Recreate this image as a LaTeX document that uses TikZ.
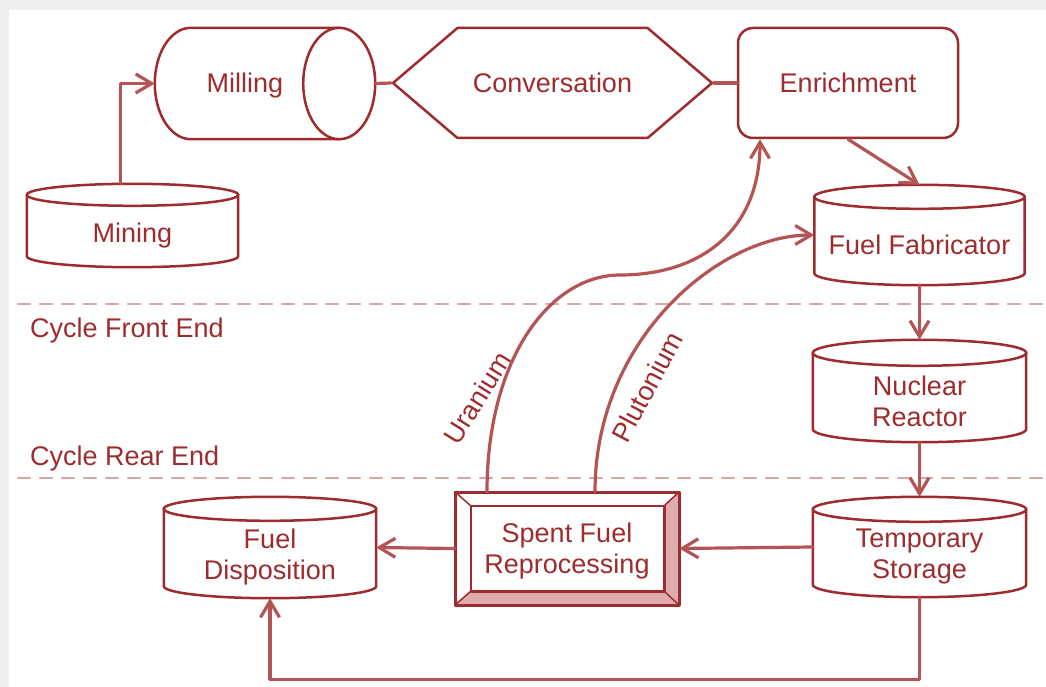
\documentclass[tikz,border=0pt]{standalone}
\usepackage{fontspec}
\setmainfont{Liberation Sans}
\usetikzlibrary{shapes.symbols,arrows.meta,calc}

\definecolor{boxred}{RGB}{158,44,46}
\definecolor{flowred}{RGB}{180,84,84}
\definecolor{dashpink}{RGB}{216,166,166}
\definecolor{bevelpink}{RGB}{222,172,172}
\definecolor{framegray}{RGB}{238,238,238}

\tikzset{
  outline/.style={draw=boxred, line width=2.5pt},
  base/.style={outline, text=boxred, fill=white,
    font=\fontsize{27}{31}\selectfont, align=center, inner sep=0pt},
  drum/.style={rectangle, inner sep=0pt},
  hexbox/.style={base, signal, signal to=east and west, signal pointer angle=81,
    minimum width=319pt, minimum height=110pt},
  roundbox/.style={base, rectangle, rounded corners=15pt,
    minimum width=220pt, minimum height=110pt},
  bevelbox/.style={outline, rectangle, minimum width=222pt, minimum height=111pt},
  flow/.style={draw=flowred, line width=3.2pt},
  flowarrow/.style={-{Straight Barb[length=16pt,width=19pt]}},
  divider/.style={draw=dashpink, line width=2.5pt, dash pattern=on 12pt off 10pt},
  tag/.style={text=boxred, font=\fontsize{27}{31}\selectfont, align=center, inner sep=0pt},
  drumtext/.style={tag, yshift=-10pt}
}

% upright drum: node, half height of the end ellipse
\newcommand\drumoutline[2]{%
  \draw[outline] let \p1=($(#1.east)-(#1.west)$) in
    ($(#1.north west)+(0,#2)$) -- ($(#1.south west)+(0,-#2)$)
    arc[start angle=180, end angle=360, x radius=0.5*\x1, y radius=#2pt]
    -- ($(#1.north east)+(0,#2)$);
  \draw[outline] let \p1=($(#1.east)-(#1.west)$) in
    ($(#1.north)+(0,#2)$) ellipse[x radius=0.5*\x1, y radius=#2pt];
}
% lying barrel: node, half width of the end ellipse
\newcommand\barreloutline[2]{%
  \draw[outline] let \p1=($(#1.north)-(#1.south)$) in
    ($(#1.north east)+(-#2,0)$) -- ($(#1.north west)+(#2,0)$)
    arc[start angle=90, end angle=270, x radius=#2pt, y radius=0.5*\y1]
    -- ($(#1.south east)+(-#2,0)$);
  \draw[outline] let \p1=($(#1.north)-(#1.south)$) in
    ($(#1.east)+(-#2,0)$) ellipse[x radius=#2pt, y radius=0.5*\y1];
}

\begin{document}
\begin{tikzpicture}[x=1pt, y=-1pt, line join=round, line cap=round]
  \useasboundingbox (0,0) rectangle (1046,687);
  \fill[framegray] (0,0) rectangle (1046,687);
  \fill[white] (9,10) rectangle (1046,687);

  % front end / rear end
  \draw[divider] (18,304) -- (1046,304);
  \draw[divider] (18,478) -- (1046,478);
  \node[tag, anchor=base west] (front) at (30,337) {Cycle Front End};
  \node[tag, anchor=base west] (rear) at (30,465) {Cycle Rear End};

  % stations
  \node[drum, minimum width=211pt, minimum height=83pt,
    label={[drumtext]center:Mining}] (mining) at (132.5,225.5) {};
  \drumoutline{mining}{11}
  \node[drum, minimum width=220pt, minimum height=111pt,
    label={[tag, xshift=-20pt, yshift=-2.5pt]center:Milling}] (milling) at (265,83.5) {};
  \barreloutline{milling}{36}
  \node[hexbox] (conv) at (552.5,83) {Conversation};
  \node[roundbox] (enrich) at (848,83) {Enrichment};
  \node[drum, minimum width=210pt, minimum height=100pt,
    label={[drumtext]center:Fuel Fabricator}] (fab) at (919.5,235) {};
  \drumoutline{fab}{12}
  \node[drum, minimum width=213pt, minimum height=102pt,
    label={[drumtext]center:Nuclear\\Reactor}] (reactor) at (919.5,391) {};
  \drumoutline{reactor}{13}
  \node[drum, minimum width=213pt, minimum height=100pt,
    label={[drumtext]center:Temporary\\Storage}] (storage) at (919.5,547) {};
  \drumoutline{storage}{12.5}
  \node[drum, minimum width=212pt, minimum height=101pt,
    label={[drumtext]center:Fuel\\Disposition}] (dispo) at (270,547.5) {};
  \drumoutline{dispo}{12}

  % reprocessing box with bevel
  \node[bevelbox] (spent) at (567,548.5) {};
  \coordinate (inw) at ($(spent.north west)+(16,14)$);
  \coordinate (ine) at ($(spent.north east)+(-15,14)$);
  \coordinate (ise) at ($(spent.south east)+(-15,-14)$);
  \coordinate (isw) at ($(spent.south west)+(16,-14)$);
  \fill[bevelpink] (spent.north east) -- (spent.south east) -- (ise) -- (ine) -- cycle;
  \fill[bevelpink] (spent.south west) -- (spent.south east) -- (ise) -- (isw) -- cycle;
  \draw[outline] (spent.north west) rectangle (spent.south east);
  \draw[outline] (inw) rectangle (ise);
  \draw[outline, line width=1.5pt] (spent.north west) -- (inw) (spent.north east) -- (ine)
    (spent.south east) -- (ise) (spent.south west) -- (isw);
  \node[tag] (spenttext) at ($(spent)+(0,3)$) {Spent Fuel\\Reprocessing};

  % flow
  \draw[flow, flowarrow] ([xshift=-12pt]mining.north) |- (milling.west);
  \draw[flow] (milling.east) -- (conv.west);
  \draw[flow] (conv.east) -- (enrich.west);
  \draw[flow, flowarrow] (enrich.south) -- (fab.north);
  \draw[flow, flowarrow] (fab.south) -- (reactor.north);
  \draw[flow, flowarrow] (reactor.south) -- (storage.north);
  \draw[flow, flowarrow] (storage.west) -- (spent.east);
  \draw[flow, flowarrow] (spent.west) -- (dispo.east);
  \draw[flow, flowarrow] (storage.south) -- ++(0,82) -| (dispo.south);

  % recycling
  \coordinate (ubend) at (620,275);
  \draw[flow, flowarrow] ([xshift=-80pt]spent.north) .. controls +(0,-133) and +(-70,0) .. (ubend)
    .. controls +(80,0) and +(0,92) .. ([xshift=-88pt]enrich.south);
  \draw[flow, flowarrow] ([xshift=28pt]spent.north) .. controls +(0,-153) and +(-95,0) .. (fab.west);
  \node[tag, rotate=58] (uranium) at (477,398) {Uranium};
  \node[tag, rotate=62] (plutonium) at (647,387) {Plutonium};
\end{tikzpicture}
\end{document}
